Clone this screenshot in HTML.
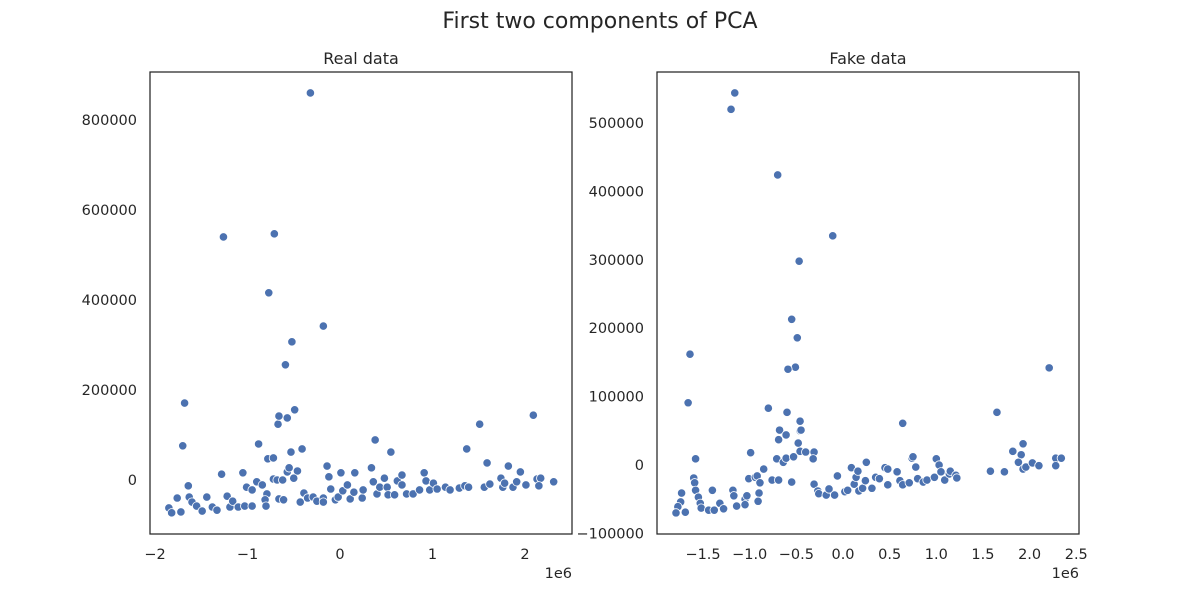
<!DOCTYPE html>
<html><head><meta charset="utf-8"><style>
body{margin:0;background:#fff;font-family:"DejaVu Sans",sans-serif;}
svg text{font-family:"DejaVu Sans",sans-serif;fill:#262626;}
</style></head><body>
<svg id="fig" width="1200" height="600">
<text x="600" y="28" font-size="22" text-anchor="middle">First two components of PCA</text>
<g id="left"></g>
<g id="right"></g>
</svg>
<script>
const realX=[-1.68,-1.70,-1.64,-1.76,-1.85,-1.82,-1.72,-1.63,-1.60,-1.55,-1.49,-1.44,-1.38,-1.33,-1.28,-1.22,-1.19,-1.16,-1.10,-1.05,-1.01,-0.95,-1.03,-0.95,-0.90,-0.84,-0.88,-0.79,-0.81,-0.80,-0.78,-0.72,-0.67,-0.66,-0.57,-0.49,-0.53,-0.41,-0.72,-0.68,-0.62,-0.57,-0.55,-0.46,-0.50,-0.66,-0.61,-0.43,-0.39,-0.35,-0.29,-0.25,-0.18,-0.18,-0.14,-0.12,-0.10,-0.05,-0.02,0.01,0.03,0.08,0.11,0.15,0.16,0.24,0.25,0.34,0.36,0.38,0.40,0.43,0.48,0.51,0.52,0.55,0.59,0.62,0.67,0.67,0.72,0.79,0.86,0.91,0.93,0.97,1.01,1.05,1.14,1.19,1.29,1.35,1.39,1.37,1.51,1.59,1.56,1.62,1.74,1.76,1.78,1.82,1.87,1.91,1.95,2.01,2.09,2.13,2.17,2.15,2.31,-0.32,-1.26,-0.71,-0.77,-0.52,-0.18,-0.59];
const realY=[171,76,-13,-40,-62,-73,-71,-38,-49,-58,-69,-38,-60,-67,13,-36,-60,-47,-60,16,-16,-22,-58,-58,-4,-11,80,-31,-44,-58,47,49,124,142,138,156,62,69,2,0,0,18,27,20,4,-42,-44,-49,-29,-40,-38,-47,-40,-49,31,7,-20,-44,-38,16,-24,-11,-42,-27,16,-40,-22,27,-4,89,-31,-16,4,-16,-33,62,-33,-2,11,-11,-31,-31,-22,16,-2,-22,-7,-20,-16,-22,-18,-13,-16,69,124,38,-16,-9,4,-16,-7,31,-16,-4,18,-11,144,2,4,-13,-4,860,540,547,416,307,342,256];
const fakeX=[-1.66,-1.58,-1.60,-1.59,-1.58,-1.55,-1.53,-1.52,-1.73,-1.74,-1.77,-1.79,-1.69,-1.44,-1.38,-1.40,-1.32,-1.28,-1.18,-1.17,-1.14,-1.05,-1.05,-1.03,-0.99,-1.01,-0.94,-0.92,-0.89,-0.90,-0.91,-0.85,-0.80,-0.76,-0.69,-0.71,-0.64,-0.61,-0.68,-0.69,-0.61,-0.60,-0.55,-0.53,-0.48,-0.46,-0.45,-0.46,-0.46,-0.40,-0.31,-0.32,-0.31,-0.27,-0.26,-0.18,-0.15,-0.09,-0.06,0.02,0.05,0.09,0.12,0.14,0.16,0.17,0.21,0.24,0.25,0.31,0.35,0.39,0.45,0.48,0.48,0.58,0.61,0.64,0.64,0.71,0.74,0.75,0.78,0.80,0.86,0.90,0.98,1.00,1.03,1.05,1.09,1.14,1.15,1.21,1.22,1.58,1.73,1.65,1.82,1.91,1.93,1.88,1.93,1.96,2.03,2.10,2.28,2.34,2.28,-1.16,-1.20,-0.70,-0.11,-0.47,-0.55,-0.49,-0.51,-0.59,-1.64,2.21];
const fakeY=[91,9,-19,-26,-37,-47,-56,-63,-41,-54,-61,-70,-69,-66,-66,-37,-56,-64,-37,-45,-60,-50,-58,-45,18,-20,-18,-16,-26,-41,-53,-6,83,-22,-22,9,4,10,51,37,44,77,-25,12,32,50,51,64,20,19,19,9,-28,-38,-42,-44,-35,-44,-16,-39,-37,-4,-28,-18,-9,-38,-34,-23,4,-34,-18,-20,-4,-6,-29,-10,-23,-29,61,-26,10,12,-3,-20,-25,-22,-18,9,0,-10,-22,-13,-9,-15,-19,-9,-10,77,20,15,31,4,-6,-3,3,-1,10,10,-1,544,520,424,335,298,213,186,143,140,162,142];
const realXTicks=[-2,-1,0,1,2];
const realYTicks=[0,200000,400000,600000,800000];
const fakeXTicks=[-1.5,-1.0,-0.5,0.0,0.5,1.0,1.5,2.0,2.5];
const fakeYTicks=[-100000,0,100000,200000,300000,400000,500000];
const NS="http://www.w3.org/2000/svg";
function mk(tag,attrs,parent){const e=document.createElementNS(NS,tag);for(const k in attrs)e.setAttribute(k,attrs[k]);parent.appendChild(e);return e;}
function panel(g,title,box,xs,ys,xdom,ydom,xt,yt,xfmt){
  const [L,T,R,B]=box;
  const sx=v=>L+(v-xdom[0])/(xdom[1]-xdom[0])*(R-L);
  const sy=v=>B-(v-ydom[0])/(ydom[1]-ydom[0])*(B-T);
  const t=mk('text',{x:(L+R)/2,y:T-8,'font-size':16,'text-anchor':'middle'},g);t.textContent=title;
  
  
  for(let i=0;i<xs.length;i++){
    const c=mk('circle',{cx:sx(xs[i]),cy:sy(ys[i]*1000),r:4.2,fill:'#4c72b0',stroke:'#fff','stroke-width':0.8},g);
    
    
  }
  const fr=mk('rect',{x:L,y:T,width:R-L,height:B-T,fill:'none',stroke:'#262626','stroke-width':1.25},g);
  
  
  xt.forEach(v=>{const e=mk('text',{x:sx(v),y:B+25,'font-size':14.5,'text-anchor':'middle'},g);e.textContent=xfmt(v);
    
    });
  yt.forEach(v=>{const e=mk('text',{x:L-13,y:sy(v)+5,'font-size':14.5,'text-anchor':'end'},g);e.textContent=String(v).replace('-','−');
    
    });
  const o=mk('text',{x:R,y:B+44,'font-size':14.5,'text-anchor':'end'},g);o.textContent='1e6';
  
  
}
panel(document.getElementById('left'),'Real data',[150,72,572,534],realX,realY,
  [(150-340)/92.5,(572-340)/92.5],[(480-534)*2222,(480-72)*2222],realXTicks,realYTicks,v=>String(v).replace('-','−'));
panel(document.getElementById('right'),'Fake data',[657,72,1079,534],fakeX,fakeY,
  [(657-843)/93.3,(1079-843)/93.3],[(465-534)*1462,(465-72)*1462],fakeXTicks,fakeYTicks,v=>v.toFixed(1).replace('-','−'));
</script>
</body></html>
